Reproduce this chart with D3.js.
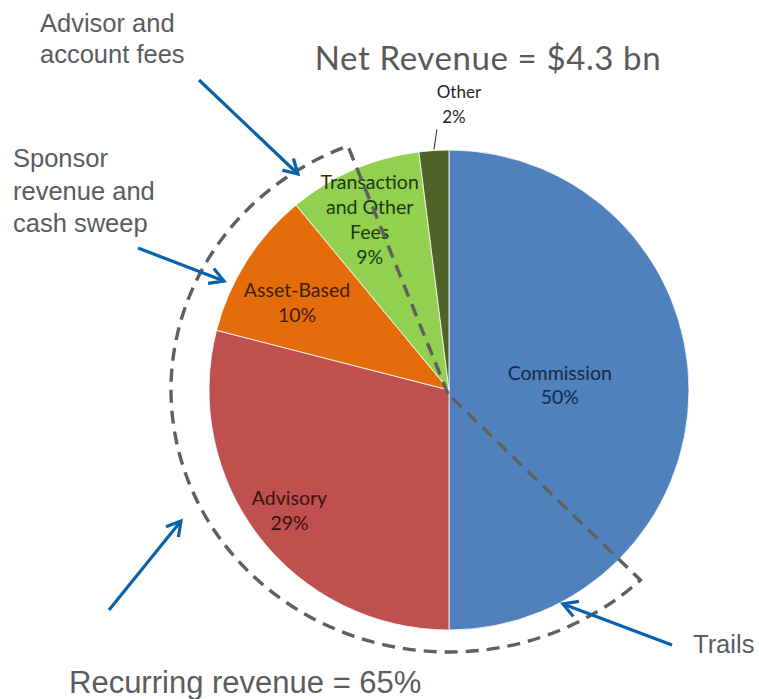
<!DOCTYPE html>
<html>
<head>
<meta charset="utf-8">
<script src="https://cdn.jsdelivr.net/npm/d3@7"></script>
<style>
  html, body { margin: 0; padding: 0; background: #ffffff; }
  svg { display: block; }
</style>
</head>
<body>
<svg id="chart" width="759" height="699"></svg>
<script>
// ---------- data ----------
const categories = ["Commission", "Advisory", "Asset-Based", "Transaction and Other Fees", "Other"];
const values = [50, 29, 10, 9, 2];
const labelLines = [["Commission", "50%"], ["Advisory", "29%"], ["Asset-Based", "10%"], ["Transaction", "and Other", "Fees", "9%"], ["Other", "2%"]];
const title = "Net Revenue = $4.3 bn";
const annotations = [["Advisor and", "account fees"], ["Sponsor", "revenue and", "cash sweep"], ["Trails"]];
const footnote = "Recurring revenue = 65%";

// ---------- layout / styles ----------
const colors = ["#4f81bd", "#c0504d", "#e46c0a", "#92d050", "#4f6228"];
const textColors = ["#17294a", "#3b1111", "#3d1c02", "#1d3a0a", "#262626"];
const W = 759, H = 699;
const cx = 449, cy = 390, R = 240;
const labelFont = "Lato, 'Open Sans', sans-serif";
const annFont = "'Liberation Sans', Arial, sans-serif";
const blue = "#0a62a9";
const grey = "#595959";

const svg = d3.select("#chart");

// arrow marker
const defs = svg.append("defs");
defs.append("marker")
  .attr("id", "arrow")
  .attr("viewBox", "0 0 20 20")
  .attr("refX", 17).attr("refY", 10)
  .attr("markerWidth", 20).attr("markerHeight", 20)
  .attr("markerUnits", "userSpaceOnUse")
  .attr("orient", "auto")
  .append("path")
  .attr("d", "M3,2 L17,10 L3,18")
  .attr("fill", "none")
  .attr("stroke", blue)
  .attr("stroke-width", 3.2)
  .attr("stroke-linejoin", "miter");

const g = svg.append("g").attr("transform", `translate(${cx},${cy})`);

const data = categories.map((c, i) => ({ cat: c, value: values[i], i }));
const pie = d3.pie().sort(null).value(d => d.value).startAngle(0).endAngle(2 * Math.PI);
const arcs = pie(data);
const arc = d3.arc().innerRadius(0).outerRadius(R);

g.selectAll("path.slice")
  .data(arcs)
  .join("path")
  .attr("class", "slice")
  .attr("d", arc)
  .attr("fill", d => colors[d.data.i])
  .attr("stroke", "#ffffff")
  .attr("stroke-width", 0.8);

// label placement: radius fraction + nudges (layout only)
const labelLayout = [
  { r: 0.47, dx: -2, dy: -5 },
  { r: 0.82, dx: -4, dy: 0 },
  { r: 0.76, dx: 2, dy: 10 },
  { r: 0.78, dx: -5, dy: 1 },
  { r: 1.0, dx: 0, dy: 0 }
];
const lineH = [24, 25, 25, 25, 25];

arcs.forEach((a, k) => {
  const lines = labelLines[k];
  const L = labelLayout[k];
  let x, y;
  if (k === 4) {
    // outside label with leader line
    const mid = (a.startAngle + a.endAngle) / 2;
    const p0 = [Math.sin(mid) * R, -Math.cos(mid) * R];
    const p1 = [p0[0] + 3, p0[1] - 21];
    g.append("line")
      .attr("x1", p0[0]).attr("y1", p0[1] - 1)
      .attr("x2", p1[0]).attr("y2", p1[1])
      .attr("stroke", "#262626").attr("stroke-width", 1);
    x = p1[0] + 22; y = p1[1] - 37;
    const t = g.append("text")
      .attr("font-family", labelFont).attr("font-size", 17)
      .attr("fill", textColors[k]).attr("text-anchor", "middle");
    lines.forEach((ln, j) => {
      t.append("tspan").attr("x", j === 0 ? x : x - 5).attr("y", y + j * 25 + 6).text(ln);
    });
    return;
  }
  const c = d3.arc().innerRadius(0).outerRadius(2 * R * L.r).centroid(a);
  x = c[0] + L.dx; y = c[1] + L.dy;
  const n = lines.length;
  const t = g.append("text")
    .attr("font-family", labelFont).attr("font-size", 19.5)
    .attr("fill", textColors[k]).attr("text-anchor", "middle");
  lines.forEach((ln, j) => {
    t.append("tspan")
      .attr("x", x)
      .attr("y", y + (j - (n - 1) / 2) * lineH[k] + 7)
      .text(ln);
  });
});

// ---------- dashed "recurring revenue" outline ----------
const rx = 278, ry = 262;
const a0 = 337.5 * Math.PI / 180, a1 = 134.8 * Math.PI / 180;
function ellPt(a) {
  const s = Math.sin(a), c = -Math.cos(a);
  const rr = 1 / Math.sqrt((s / rx) ** 2 + (c / ry) ** 2);
  return [s * rr, c * rr];
}
const vtx = [-1, 4];
const pA = ellPt(a0), pB = ellPt(a1);
const pathStr = `M${vtx[0]},${vtx[1]} L${pA[0]},${pA[1]} A${rx},${ry} 0 1 0 ${pB[0]},${pB[1]} Z`;
g.append("path")
  .attr("d", pathStr)
  .attr("fill", "none")
  .attr("stroke", "#5f5f5f")
  .attr("stroke-width", 3.4)
  .attr("stroke-dasharray", "13,8");

// ---------- title ----------
svg.append("text")
  .attr("x", 488).attr("y", 70)
  .attr("text-anchor", "middle")
  .attr("font-family", labelFont)
  .attr("font-size", 33)
  .attr("letter-spacing", 0.6)
  .attr("fill", grey)
  .text(title);

// ---------- annotations ----------
const annPos = [[40, 32, 31], [13, 167, 32.5], [693, 653, 0]];
annotations.forEach((lines, k) => {
  const t = svg.append("text")
    .attr("font-family", annFont).attr("font-size", 25.5)
    .attr("fill", "#5a5c60");
  lines.forEach((ln, j) => {
    t.append("tspan").attr("x", annPos[k][0]).attr("y", annPos[k][1] + j * annPos[k][2]).text(ln);
  });
});
svg.append("text")
  .attr("x", 69).attr("y", 693)
  .attr("font-family", annFont).attr("font-size", 31)
  .attr("fill", "#5a5c60")
  .text(footnote);

// arrows
const arrows = [
  [[199, 80], [298, 174]],
  [[138, 248], [224, 281]],
  [[109, 610], [181, 521]],
  [[672, 645], [563, 604]]
];
svg.selectAll("line.arrow")
  .data(arrows)
  .join("line")
  .attr("class", "arrow")
  .attr("x1", d => d[0][0]).attr("y1", d => d[0][1])
  .attr("x2", d => d[1][0]).attr("y2", d => d[1][1])
  .attr("stroke", blue)
  .attr("stroke-width", 3.2)
  .attr("marker-end", "url(#arrow)");
</script>
</body>
</html>
